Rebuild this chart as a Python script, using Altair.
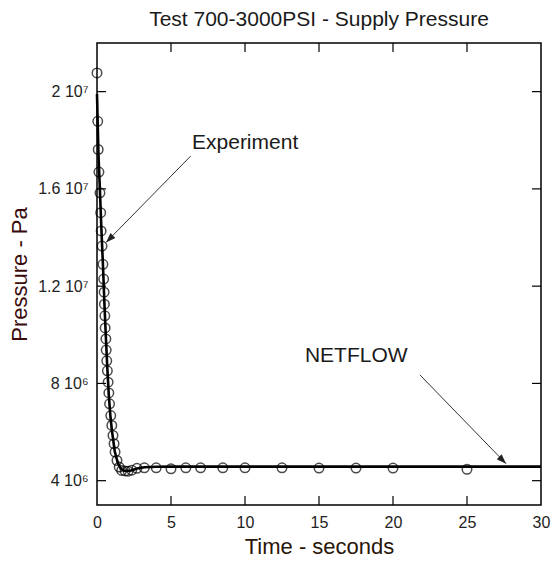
import altair as alt
import pandas as pd

# ---- data ----
exp_time = [0, 0.05, 0.08, 0.13, 0.2, 0.25, 0.28, 0.34, 0.4, 0.45, 0.48, 0.5, 0.53, 0.55,
            0.6, 0.62, 0.66, 0.7, 0.75, 0.8, 0.85, 0.93, 1.0, 1.08, 1.15, 1.22, 1.35, 1.5,
            1.67, 1.9, 2.1, 2.35, 2.7, 3.2, 4, 5, 6, 7, 8.5, 10, 12.5, 15, 17.5, 20, 25]
exp_pressure = [20.77e6, 18.78e6, 17.62e6, 16.69e6, 15.84e6, 15.02e6, 14.27e6, 13.65e6,
                12.90e6, 12.29e6, 11.75e6, 11.26e6, 10.78e6, 10.28e6, 9.83e6, 9.37e6,
                8.93e6, 8.52e6, 8.05e6, 7.61e6, 7.16e6, 6.68e6, 6.27e6, 5.86e6, 5.52e6,
                5.18e6, 4.83e6, 4.56e6, 4.42e6, 4.40e6, 4.39e6, 4.43e6, 4.51e6, 4.53e6,
                4.53e6, 4.49e6, 4.53e6, 4.53e6, 4.53e6, 4.53e6, 4.53e6, 4.52e6, 4.52e6,
                4.52e6, 4.47e6]

netflow_time = [0, 0.1, 0.2, 0.3, 0.4, 0.5, 0.6, 0.7, 0.8, 0.9, 1.0, 1.2, 1.4, 1.6, 1.8,
                2.0, 2.3, 2.7, 3.2, 4, 5, 30]
netflow_pressure = [19.9e6, 17.4e6, 15.9e6, 14.3e6, 12.9e6, 11.3e6, 9.9e6, 8.6e6, 7.5e6,
                    6.7e6, 6.1e6, 5.2e6, 4.75e6, 4.5e6, 4.42e6, 4.4e6, 4.42e6, 4.5e6,
                    4.55e6, 4.57e6, 4.58e6, 4.58e6]

x_ticks = [0, 5, 10, 15, 20, 25, 30]
y_ticks = [4e6, 8e6, 1.2e7, 1.6e7, 2e7]
y_tick_labels = ["4 10\u2076", "8 10\u2076", "1.2 10\u2077", "1.6 10\u2077", "2 10\u2077"]

note_text = ["Experiment", "NETFLOW"]
note_x = [6.42, 14.05]
note_y = [17.9e6, 9.13e6]
arrow_x0 = [6.33, 21.82]
arrow_y0 = [17.35e6, 8.35e6]
arrow_x1 = [0.61, 27.64]
arrow_y1 = [13.8e6, 4.70e6]
arrow_angle = [225, 135]

W, H = 444, 462
FONT = "Liberation Sans"

xs = alt.Scale(domain=[0, 30], nice=False, zero=False)
ys = alt.Scale(domain=[3e6, 2.2e7], nice=False, zero=False)

label_expr = ""
for v, lab in zip(y_ticks, y_tick_labels):
    label_expr += f"abs(datum.value - {v}) < 1 ? '{lab}' : "
label_expr += "''"

exp_df = pd.DataFrame({"t": exp_time, "p": exp_pressure})
net_df = pd.DataFrame({"t": netflow_time, "p": netflow_pressure})
note_df = pd.DataFrame({"t": note_x, "p": note_y, "label": note_text})
arrow_df = pd.DataFrame({"x0": arrow_x0, "y0": arrow_y0, "x1": arrow_x1,
                         "y1": arrow_y1, "ang": arrow_angle})
xt_df = pd.DataFrame({"t": x_ticks[1:-1]})
yt_df = pd.DataFrame({"p": y_ticks})

xaxis = alt.Axis(values=x_ticks, title="Time - seconds", grid=False, ticks=False,
                 domain=False, labelFontSize=16, labelPadding=9, labelColor="#222",
                 labelFlush=False, labelOverlap=False,
                 labelFont=FONT, titleFont=FONT, titleFontSize=22,
                 titleFontWeight="normal", titleColor="#2a1608", titlePadding=6)
yaxis = alt.Axis(values=y_ticks, title="Pressure - Pa", grid=False, ticks=False,
                 domain=False, labelFontSize=16, labelPadding=9, labelColor="#222",
                 labelFlush=False, labelOverlap=False,
                 labelExpr=label_expr, labelFont=FONT, titleFont=FONT,
                 titleFontSize=22, titleFontWeight="normal", titleColor="#3a0a0a",
                 titlePadding=6)

line = alt.Chart(net_df).mark_line(color="black", strokeWidth=2.6).encode(
    x=alt.X("t:Q", scale=xs, axis=xaxis),
    y=alt.Y("p:Q", scale=ys, axis=yaxis),
    order="t:Q",
)

points = alt.Chart(exp_df).mark_point(shape="circle", size=90, filled=False,
                                      color="black", strokeWidth=1.5).encode(
    x=alt.X("t:Q", scale=xs), y=alt.Y("p:Q", scale=ys))

notes = alt.Chart(note_df).mark_text(align="left", baseline="middle", fontSize=21,
                                     font=FONT, color="#1a1a1a").encode(
    x=alt.X("t:Q", scale=xs), y=alt.Y("p:Q", scale=ys), text="label:N")

arrows = alt.Chart(arrow_df).mark_rule(color="#333", strokeWidth=1).encode(
    x=alt.X("x0:Q", scale=xs), y=alt.Y("y0:Q", scale=ys), x2="x1:Q", y2="y1:Q")

heads = alt.Chart(arrow_df).mark_point(shape="M0,0L-0.35,1L0.35,1Z", size=380,
                                       filled=True, color="#222", opacity=1).encode(
    x=alt.X("x1:Q", scale=xs), y=alt.Y("y1:Q", scale=ys),
    angle=alt.Angle("ang:Q", scale=None))

tick_style = dict(color="black", strokeWidth=1.2)
bt = alt.Chart(xt_df).mark_rule(**tick_style).encode(
    x=alt.X("t:Q", scale=xs), y=alt.value(H), y2=alt.value(H - 9))
tt = alt.Chart(xt_df).mark_rule(**tick_style).encode(
    x=alt.X("t:Q", scale=xs), y=alt.value(0), y2=alt.value(9))
lt = alt.Chart(yt_df).mark_rule(**tick_style).encode(
    y=alt.Y("p:Q", scale=ys), x=alt.value(0), x2=alt.value(9))
rt = alt.Chart(yt_df).mark_rule(**tick_style).encode(
    y=alt.Y("p:Q", scale=ys), x=alt.value(W), x2=alt.value(W - 9))

chart = alt.layer(bt, tt, lt, rt, arrows, heads, line, points, notes).properties(
    width=W, height=H,
    title=alt.Title("Test 700-3000PSI - Supply Pressure", fontSize=21, font=FONT,
                    fontWeight="normal", color="#1a1a1a", offset=12, anchor="middle"),
    autosize=alt.AutoSizeParams(type="none"),
    padding={"left": 97, "top": 43, "right": 10, "bottom": 59},
    background="white",
).configure_view(stroke="black", strokeWidth=1.5)

chart.save("out.html", embed_options={"renderer": "svg", "actions": False})
